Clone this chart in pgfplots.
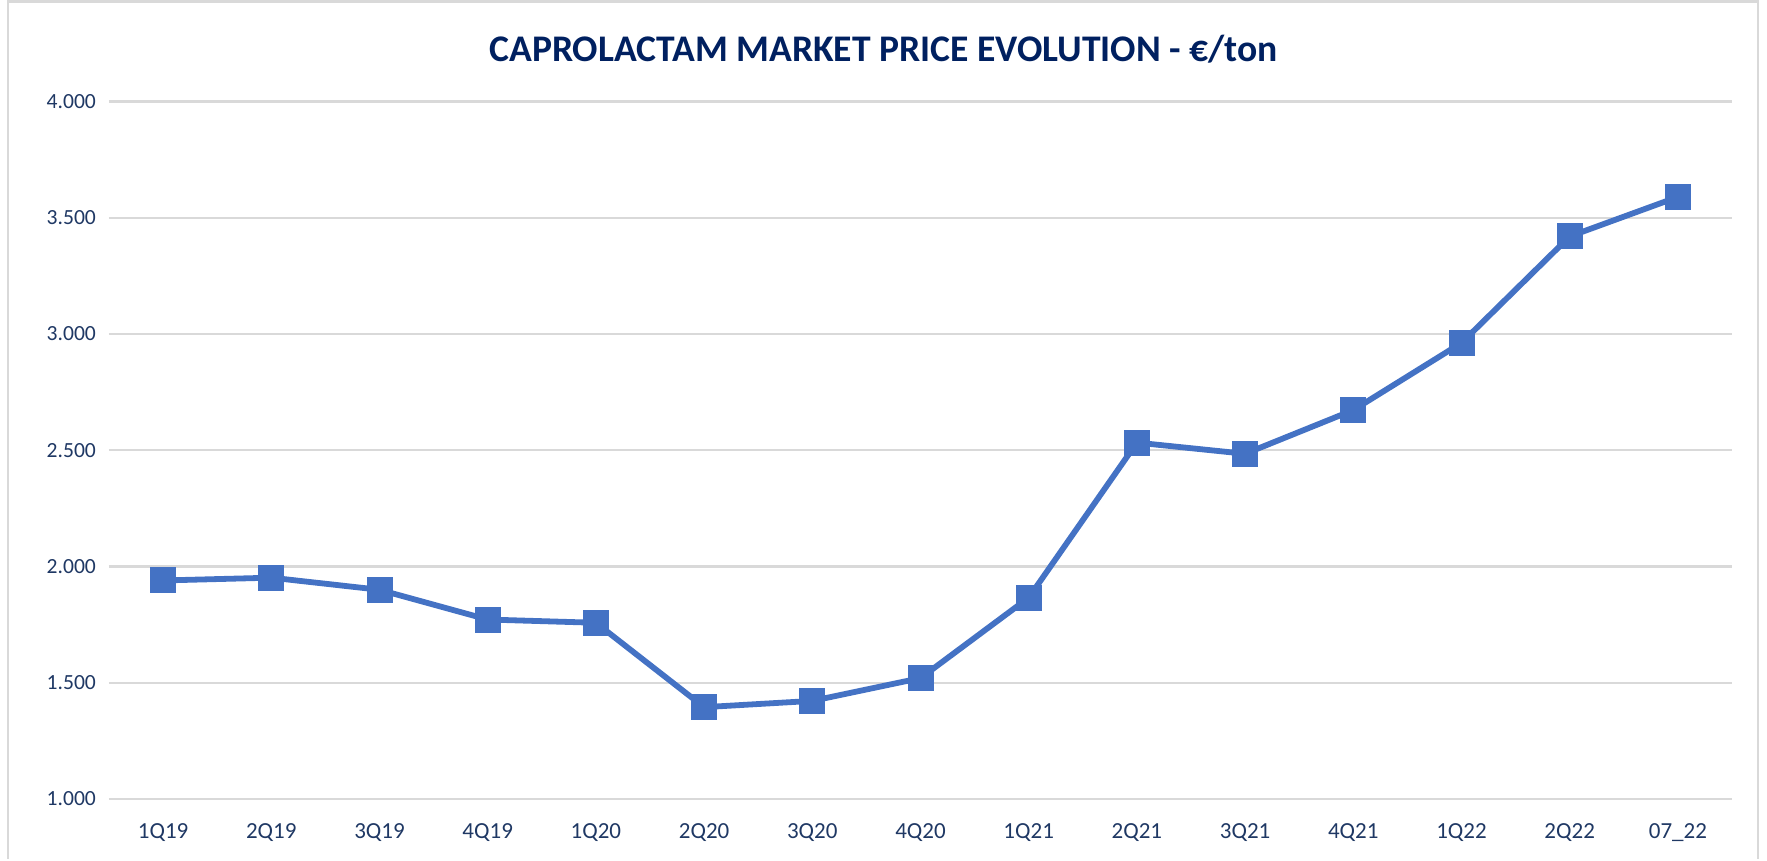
\documentclass[border=0pt]{standalone}
\usepackage{fontspec}
\setmainfont{Carlito}
\usepackage{pgfplots}
\pgfplotsset{compat=1.18}
\definecolor{linebl}{RGB}{68,114,196}
\definecolor{navy}{RGB}{0,32,96}
\definecolor{ticktx}{RGB}{31,56,100}
\definecolor{grd}{RGB}{217,217,217}

\begin{document}
\begin{tikzpicture}
% chart frame (page box)
\path (-54.5pt,-30pt) rectangle (829pt,399.5pt);
\draw[grd, line width=1.2pt] (-50.5pt,-30pt) -- (-50.5pt,398.8pt) -- (824.5pt,398.8pt) -- (824.5pt,-30pt);
\begin{axis}[
  scale only axis, width=811.5pt, height=348.7pt,
  xmin=-0.5, xmax=14.5, ymin=1000, ymax=4000,
  ytick={1000,1500,...,4000},
  xtick={0,...,14},
  xticklabels={1Q19,2Q19,3Q19,4Q19,1Q20,2Q20,3Q20,4Q20,1Q21,2Q21,3Q21,4Q21,1Q22,2Q22,07\_22},
  axis line style={draw=none}, tick style={draw=none},
  ymajorgrids, grid style={grd, line width=1.1pt},
  /pgf/number format/.cd, 1000 sep={.}, assume math mode=true,
  /pgfplots/.cd,
  yticklabel style={font=\fontsize{10.8}{12}\selectfont, text=ticktx, xshift=-3pt},
  xticklabel style={font=\fontsize{11.5}{13}\selectfont, text=ticktx, yshift=-9pt},
  clip=false,
]
\addplot[linebl, line width=2.9pt, mark=square*, mark size=6.2pt,
  mark options={line width=0.6pt, rounded corners=1pt}] coordinates {
 (0,1940) (1,1952) (2,1900) (3,1772) (4,1758) (5,1395) (6,1422) (7,1520)
 (8,1866) (9,2533) (10,2485) (11,2673) (12,2962) (13,3420) (14,3590)
};
\end{axis}
\node[font=\fontsize{18.8}{22}\selectfont\bfseries, text=navy] at (387.25pt,375pt) {CAPROLACTAM MARKET PRICE EVOLUTION - €/ton};
\end{tikzpicture}
\end{document}
